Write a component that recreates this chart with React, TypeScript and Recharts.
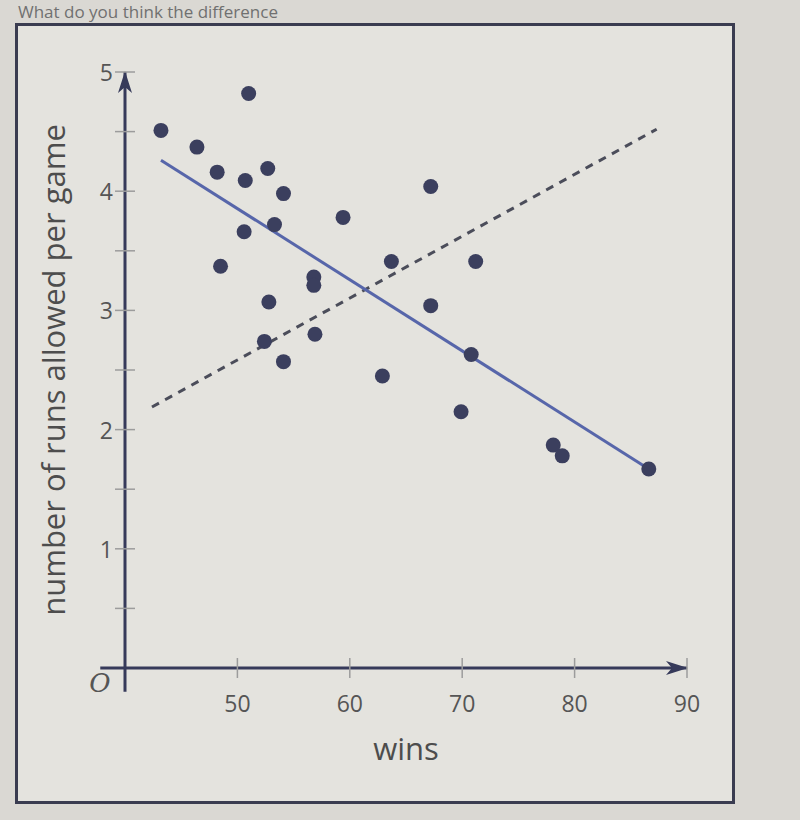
import React from 'react';
import { ScatterChart, Scatter, XAxis, YAxis, ReferenceLine, Label } from 'recharts';

// wins (x) and runs allowed per game (y) for each team
const teamWins = [
  43.2, 46.4, 51.0, 48.2, 50.7, 52.7, 54.1, 53.3, 50.6, 48.5, 59.4, 56.8, 56.8, 52.8,
  52.4, 54.1, 56.9, 63.7, 67.2, 67.2, 71.2, 70.8, 62.9, 69.9, 78.1, 78.9, 86.6,
];
const teamRuns = [
  4.51, 4.37, 4.82, 4.16, 4.09, 4.19, 3.98, 3.72, 3.66, 3.37, 3.78, 3.28, 3.21, 3.07,
  2.74, 2.57, 2.8, 3.41, 4.04, 3.04, 3.41, 2.63, 2.45, 2.15, 1.87, 1.78, 1.67,
];

// fitted line (solid) and the other line (dashed)
const solidWins = [43.2, 86.6];
const solidRuns = [4.26, 1.67];
const dashedWins = [42.4, 87.3];
const dashedRuns = [2.19, 4.52];

const winsTicks = [50, 60, 70, 80, 90];
const runsTicks = [0, 0.5, 1, 1.5, 2, 2.5, 3, 3.5, 4, 4.5, 5];
const runsLabels = [1, 2, 3, 4, 5];

const toPoints = (xs: number[], ys: number[]) => xs.map((wins, i) => ({ wins, runs: ys[i] }));

const teams = toPoints(teamWins, teamRuns);
const solidLine = toPoints(solidWins, solidRuns);
const dashedLine = toPoints(dashedWins, dashedRuns);

const AXIS = '#363a5a';
const TICK = '#9c9c9c';
const TEXT = '#555555';
const FONT = '"Open Sans", sans-serif';

const WinsTick = (props: any) => {
  const { x, y, payload } = props;
  return (
    <g>
      <line x1={x} y1={y - 10} x2={x} y2={y + 10} stroke={TICK} strokeWidth={1.5} />
      <text x={x} y={y + 35} textAnchor="middle" dominantBaseline="central" fontSize={23} fill={TEXT} fontFamily={FONT}>
        {payload.value}
      </text>
    </g>
  );
};

const RunsTick = (props: any) => {
  const { x, y, payload } = props;
  if (payload.value === 0) {
    return (
      <text x={x - 25} y={y + 15} textAnchor="middle" dominantBaseline="central" fontSize={26} fontStyle="italic" fill={TEXT} fontFamily='"DejaVu Serif", serif'>
        O
      </text>
    );
  }
  return (
    <g>
      <line x1={x - 10} y1={y} x2={x + 10} y2={y} stroke={TICK} strokeWidth={1.5} />
      {runsLabels.includes(payload.value) && (
        <text x={x - 12} y={y} textAnchor="end" dominantBaseline="central" fontSize={23} fill={TEXT} fontFamily={FONT}>
          {payload.value}
        </text>
      )}
    </g>
  );
};

const YTitle = (props: any) => {
  const { viewBox } = props;
  const cx = viewBox.x - 12;
  const cy = viewBox.y + viewBox.height / 2;
  return (
    <text x={cx} y={cy} transform={`rotate(-90, ${cx}, ${cy})`} textAnchor="middle" dominantBaseline="central" fontSize={31} fill="#4d4d4d" fontFamily={FONT}>
      number of runs allowed per game
    </text>
  );
};

const XTitle = (props: any) => {
  const { viewBox } = props;
  return (
    <text x={viewBox.x + viewBox.width / 2} y={viewBox.y + 80} textAnchor="middle" dominantBaseline="central" fontSize={31} fill="#4d4d4d" fontFamily={FONT}>
      wins
    </text>
  );
};

const Dot = (props: any) => <circle cx={props.cx} cy={props.cy} r={7.5} fill="#3b3f5e" />;
const NoDot = () => <g />;

export default function App() {
  return (
    <div style={{ position: 'absolute', left: 0, top: 0, width: 800, height: 820, overflow: 'hidden', background: '#dad8d3' }}>
      <svg width={0} height={0} style={{ position: 'absolute' }}>
        <defs>
          <marker id="axisArrow" viewBox="0 0 22 14" refX={21} refY={7} markerWidth={22} markerHeight={14} markerUnits="userSpaceOnUse" orient="auto">
            <path d="M0,0 L22,7 L0,14 L6,7 Z" fill={AXIS} />
          </marker>
        </defs>
      </svg>
      <div style={{ position: 'absolute', left: 18, top: 2, fontSize: 17, lineHeight: '20px', color: '#707070', fontFamily: FONT, whiteSpace: 'nowrap' }}>
        What do you think the difference
      </div>
      <div style={{ position: 'absolute', left: 15, top: 23, width: 720, height: 781, border: '3px solid #3a3c50', boxSizing: 'border-box', background: '#e4e3de' }} />
      <div style={{ position: 'absolute', left: 0, top: 0 }}>
        <ScatterChart width={800} height={820} margin={{ top: 72, right: 113, bottom: 92, left: 65 }}>
          <XAxis
            type="number"
            dataKey="wins"
            domain={[40, 90]}
            ticks={winsTicks}
            interval={0}
            axisLine={false}
            tickLine={false}
            tickSize={0}
            tickMargin={0}
            height={60}
            tick={<WinsTick />}
          >
            <Label content={<XTitle />} />
          </XAxis>
          <YAxis
            type="number"
            dataKey="runs"
            domain={[0, 5]}
            ticks={runsTicks}
            interval={0}
            axisLine={false}
            tickLine={false}
            tickSize={0}
            tickMargin={0}
            width={60}
            tick={<RunsTick />}
          >
            <Label content={<YTitle />} />
          </YAxis>
          <ReferenceLine
            segment={[{ x: 40, y: -0.2 }, { x: 40, y: 5 }]}
            stroke={AXIS}
            strokeWidth={3}
            markerEnd="url(#axisArrow)"
            ifOverflow="visible"
          />
          <ReferenceLine
            segment={[{ x: 37.8, y: 0 }, { x: 90, y: 0 }]}
            stroke={AXIS}
            strokeWidth={3}
            markerEnd="url(#axisArrow)"
            ifOverflow="visible"
          />
          <Scatter
            data={dashedLine}
            fill="#4b4d5a"
            line={{ stroke: '#4b4d5a', strokeWidth: 3, strokeDasharray: '8 7' }}
            shape={<NoDot />}
            isAnimationActive={false}
          />
          <Scatter
            data={solidLine}
            fill="#5766aa"
            line={{ stroke: '#5766aa', strokeWidth: 3 }}
            shape={<NoDot />}
            isAnimationActive={false}
          />
          <Scatter data={teams} fill="#3b3f5e" shape={<Dot />} isAnimationActive={false} />
        </ScatterChart>
      </div>
    </div>
  );
}
